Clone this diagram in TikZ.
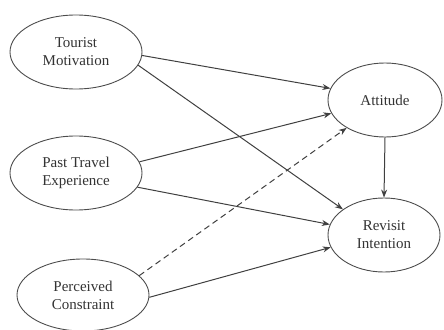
\documentclass[tikz,border=0pt]{standalone}
\usepackage{fontspec}
\setmainfont{Liberation Serif}
\usetikzlibrary{shapes.geometric,arrows.meta}
\begin{document}
\begin{tikzpicture}[x=1pt,y=-1pt,
  var/.style={ellipse,draw=black!70,line width=0.9pt,inner sep=0pt,align=center,
    font=\fontsize{15}{18}\selectfont,text=black!80},
  conn/.style={draw=black!75,line width=1pt,-{Stealth[length=8pt,width=6pt]}}]
\useasboundingbox (0,0) rectangle (444,329);
\node[var,minimum width=132pt,minimum height=74pt] (tm) at (76,52) {Tourist\\Motivation};
\node[var,minimum width=132pt,minimum height=74pt] (pte) at (76,173) {Past Travel\\Experience};
\node[var,minimum width=132pt,minimum height=72pt] (pc) at (83,295) {Perceived\\Constraint};
\node[var,minimum width=114pt,minimum height=74pt] (att) at (385,100) {Attitude};
\node[var,minimum width=112pt,minimum height=74pt] (ri) at (384,235) {Revisit\\Intention};
\draw[conn] (tm.-3) -- (att.168);
\draw[conn] (tm.-12) -- (ri.148);
\draw[conn] (pte.10) -- (att.194);
\draw[conn] (pte.-13) -- (ri.169);
\draw[conn,dash pattern=on 6pt off 4pt] (pc.19) -- (att.216);
\draw[conn] (pc.-2) -- (ri.193);
\draw[conn] (att.south) -- (ri.north);
\end{tikzpicture}
\end{document}
